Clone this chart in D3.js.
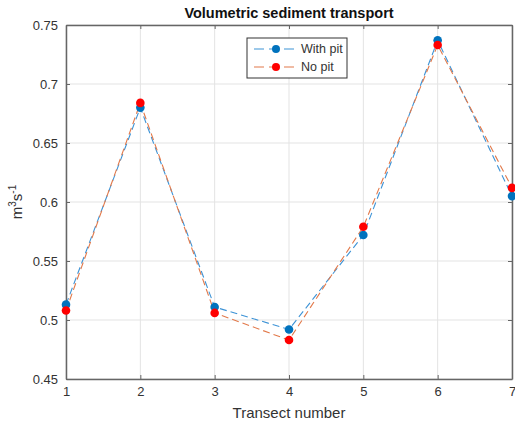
<!DOCTYPE html>
<html>
<head>
<meta charset="utf-8">
<script src="https://cdn.jsdelivr.net/npm/d3@7"></script>
<style>
  html, body { margin: 0; padding: 0; background: #fff; }
  svg { display: block; font-family: "Liberation Sans", Arial, sans-serif; }
</style>
</head>
<body>
<svg id="chart" width="515" height="427"></svg>
<script>
// Transect numbers along the x axis
const transects = [1, 2, 3, 4, 5, 6, 7];
// Volumetric sediment transport (m^3 s^-1) per transect
const withPit = [0.513, 0.680, 0.511, 0.492, 0.572, 0.737, 0.605];
const noPit   = [0.508, 0.684, 0.506, 0.483, 0.579, 0.733, 0.612];
const yTicks = [0.45, 0.5, 0.55, 0.6, 0.65, 0.7, 0.75];
const yTickLabels = ["0.45", "0.5", "0.55", "0.6", "0.65", "0.7", "0.75"];
const seriesNames = ["With pit", "No pit"];

const svg = d3.select("#chart");
const m = { left: 66, right: 3, top: 25, bottom: 48 };
const W = 515, H = 427;
const x = d3.scaleLinear().domain([1, 7]).range([m.left, W - m.right]);
const y = d3.scaleLinear().domain([0.45, 0.75]).range([H - m.bottom, m.top]);

const axisColor = "#666";
const textColor = "#333";

// grid
const g = svg.append("g");
g.selectAll(".vg").data(transects).enter().append("line")
  .attr("x1", d => x(d)).attr("x2", d => x(d))
  .attr("y1", y(0.45)).attr("y2", y(0.75))
  .attr("stroke", "#e3e3e3").attr("stroke-width", 1);
g.selectAll(".hg").data(yTicks).enter().append("line")
  .attr("x1", x(1)).attr("x2", x(7))
  .attr("y1", d => y(d)).attr("y2", d => y(d))
  .attr("stroke", "#e3e3e3").attr("stroke-width", 1);

// axes with inward ticks
const xAxis = d3.axisBottom(x).tickValues(transects).tickFormat(d3.format("d")).tickSizeInner(-4).tickSizeOuter(0).tickPadding(8);
const yAxis = d3.axisLeft(y).tickValues(yTicks).tickFormat((d, i) => yTickLabels[i]).tickSizeInner(-4).tickSizeOuter(0).tickPadding(8);
const xTop = d3.axisTop(x).tickValues(transects).tickFormat("").tickSizeInner(-4).tickSizeOuter(0);
const yRight = d3.axisRight(y).tickValues(yTicks).tickFormat("").tickSizeInner(-4).tickSizeOuter(0);

function styleAxis(sel) {
  sel.select(".domain").attr("stroke", axisColor).attr("stroke-width", 1.5);
  sel.selectAll(".tick line").attr("stroke", axisColor);
  sel.selectAll(".tick text").attr("fill", textColor).style("font-size", "13px");
}
svg.append("g").attr("transform", `translate(0,${y(0.45)})`).call(xAxis).call(styleAxis);
svg.append("g").attr("transform", `translate(${x(1)},0)`).call(yAxis).call(styleAxis);
svg.append("g").attr("transform", `translate(0,${y(0.75)})`).call(xTop).call(styleAxis);
svg.append("g").attr("transform", `translate(${x(7)},0)`).call(yRight).call(styleAxis);

// series
const series = [
  { name: seriesNames[0], values: withPit, line: "#3d93d6", marker: "#0072BD" },
  { name: seriesNames[1], values: noPit, line: "#e2794a", marker: "#FF0000" }
];
const line = d3.line().x((d, i) => x(transects[i])).y(d => y(d));
series.forEach(s => {
  svg.append("path").datum(s.values).attr("d", line)
    .attr("fill", "none").attr("stroke", s.line).attr("stroke-width", 1.1)
    .attr("stroke-dasharray", "7,4");
});
series.forEach(s => {
  svg.selectAll(null).data(s.values).enter().append("circle")
    .attr("cx", (d, i) => x(transects[i])).attr("cy", d => y(d))
    .attr("r", 4.3).attr("fill", s.marker);
});

// title and labels
svg.append("text").attr("x", (x(1) + x(7)) / 2).attr("y", 18)
  .attr("text-anchor", "middle").attr("font-weight", "bold").attr("font-size", 14.5)
  .attr("fill", "#111").text("Volumetric sediment transport");
svg.append("text").attr("x", (x(1) + x(7)) / 2).attr("y", 418)
  .attr("text-anchor", "middle").attr("font-size", 15).attr("fill", textColor)
  .text("Transect number");
const yl = svg.append("text").attr("transform", `translate(22,${(y(0.45) + y(0.75)) / 2}) rotate(-90)`)
  .attr("text-anchor", "middle").attr("font-size", 15).attr("fill", textColor);
yl.append("tspan").text("m");
yl.append("tspan").attr("dy", -6).attr("font-size", 10).text("3");
yl.append("tspan").attr("dy", 6).text("s");
yl.append("tspan").attr("dy", -6).attr("font-size", 10).text("-1");

// legend
const lg = svg.append("g").attr("transform", "translate(247,38)");
lg.append("rect").attr("width", 100).attr("height", 40)
  .attr("fill", "#fff").attr("stroke", "#333").attr("stroke-width", 1);
series.forEach((s, i) => {
  const ry = 11 + i * 18;
  lg.append("line").attr("x1", 7).attr("x2", 51).attr("y1", ry).attr("y2", ry)
    .attr("stroke", s.line).attr("stroke-width", 1.1).attr("stroke-dasharray", "10,5");
  lg.append("circle").attr("cx", 29).attr("cy", ry).attr("r", 4).attr("fill", s.marker);
  lg.append("text").attr("x", 54).attr("y", ry + 4).attr("font-size", 12.5)
    .attr("fill", textColor).text(s.name);
});
</script>
</body>
</html>
